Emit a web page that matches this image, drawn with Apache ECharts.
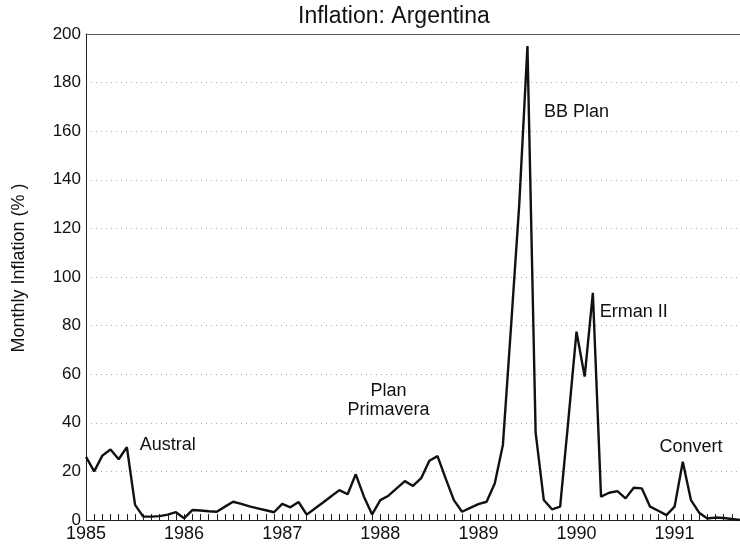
<!DOCTYPE html>
<html>
<head>
<meta charset="utf-8">
<script src="https://cdn.jsdelivr.net/npm/echarts@6/dist/echarts.min.js"></script>
<style>
  html, body { margin: 0; padding: 0; background: #fff; }
  #chart { width: 740px; height: 546px; }
</style>
</head>
<body>
<div id="chart"></div>
<script>
// monthly inflation (%)
const years = ['1985', '1986', '1987', '1988', '1989', '1990', '1991'];
const infl1985 = [26, 20, 26.5, 29, 25, 30, 6.2, 1.4, 1.4, 1.6, 2.2, 3.2];
const infl1986 = [0.7, 4.1, 3.9, 3.6, 3.4, 5.5, 7.5, 6.6, 5.6, 4.8, 4, 3.2];
const infl1987 = [6.6, 5.2, 7.4, 2.2, 4.7, 7.2, 9.8, 12.3, 10.6, 18.8, 9.6, 2.3];
const infl1988 = [8.2, 10, 13, 16, 14, 17.2, 24.4, 26.3, 17, 8.2, 3.4, 5];
const infl1989 = [6.5, 7.5, 15, 31, 80, 130, 195, 36, 8.2, 4.4, 5.5, 41];
const infl1990 = [77.5, 59, 93.5, 9.6, 11.2, 11.9, 8.9, 13.3, 13, 5.5, 3.8, 2];
const infl1991 = [5.5, 24, 8.2, 3, 0.6, 1, 0.8, 0.4, 0];

// plan labels: [text, year, month (1-12), value]
const plans = [
  ['Austral', '1985', 11, 31],
  ['Plan\nPrimavera', '1988', 2, 49],
  ['BB Plan', '1990', 1, 168],
  ['Erman II', '1990', 8, 85.7],
  ['Convert', '1991', 3, 30]
];

const yTicks = { min: 0, max: 200, step: 20 };

const values = [].concat(infl1985, infl1986, infl1987, infl1988, infl1989, infl1990, infl1991);
const months = values.map(function (v, i) {
  const m = (i % 12) + 1;
  return years[Math.floor(i / 12)] + '-' + (m < 10 ? '0' + m : m);
});

const font = 'Liberation Sans, Arial, Helvetica, sans-serif';
const chart = echarts.init(document.getElementById('chart'));

chart.setOption({
  backgroundColor: '#fff',
  animation: false,
  title: {
    text: 'Inflation: Argentina',
    left: 298,
    top: 5,
    padding: 0,
    textStyle: { color: '#111', fontSize: 23, fontWeight: 'normal', fontFamily: font }
  },
  grid: { left: 86, right: 0, top: 34, bottom: 26 },
  xAxis: [
    {
      type: 'category',
      data: months,
      boundaryGap: false,
      axisLine: { lineStyle: { color: '#222', width: 1 } },
      axisTick: { inside: true, length: 6, interval: 0, lineStyle: { color: '#222' } },
      axisLabel: {
        interval: function (index) { return index % 12 === 0; },
        formatter: function (v) { return v.slice(0, 4); },
        color: '#111',
        fontSize: 18,
        fontFamily: font,
        margin: 5
      },
      splitLine: { show: false }
    },
    {
      // top frame line
      type: 'category',
      data: months,
      position: 'top',
      boundaryGap: false,
      axisLine: { lineStyle: { color: '#555', width: 1 } },
      axisTick: { show: false },
      axisLabel: { show: false }
    }
  ],
  yAxis: {
    type: 'value',
    min: yTicks.min,
    max: yTicks.max,
    interval: yTicks.step,
    name: 'Monthly Inflation (% )',
    nameLocation: 'middle',
    nameGap: 58,
    nameTextStyle: { color: '#111', fontSize: 18, fontFamily: font, padding: [0, 0, 0, 18] },
    axisLine: { show: true, lineStyle: { color: '#222', width: 1 } },
    axisTick: { show: false },
    axisLabel: { color: '#111', fontSize: 17, fontFamily: font, margin: 5 },
    splitLine: {
      show: true,
      lineStyle: { color: '#aaa', width: 1, type: [1, 4] }
    }
  },
  series: [
    {
      name: 'inflation',
      type: 'line',
      data: values,
      symbol: 'none',
      lineStyle: { color: '#111', width: 2.4 },
      markPoint: {
        symbol: 'rect',
        symbolSize: 1,
        itemStyle: { color: 'transparent' },
        label: {
          show: true,
          position: 'inside',
          color: '#111',
          fontSize: 18,
          lineHeight: 19,
          fontFamily: font,
          formatter: function (p) { return p.name; }
        },
        data: plans.map(function (p) {
          const m = p[2] < 10 ? '0' + p[2] : '' + p[2];
          return { name: p[0], coord: [p[1] + '-' + m, p[3]] };
        })
      }
    }
  ]
});
</script>
</body>
</html>
